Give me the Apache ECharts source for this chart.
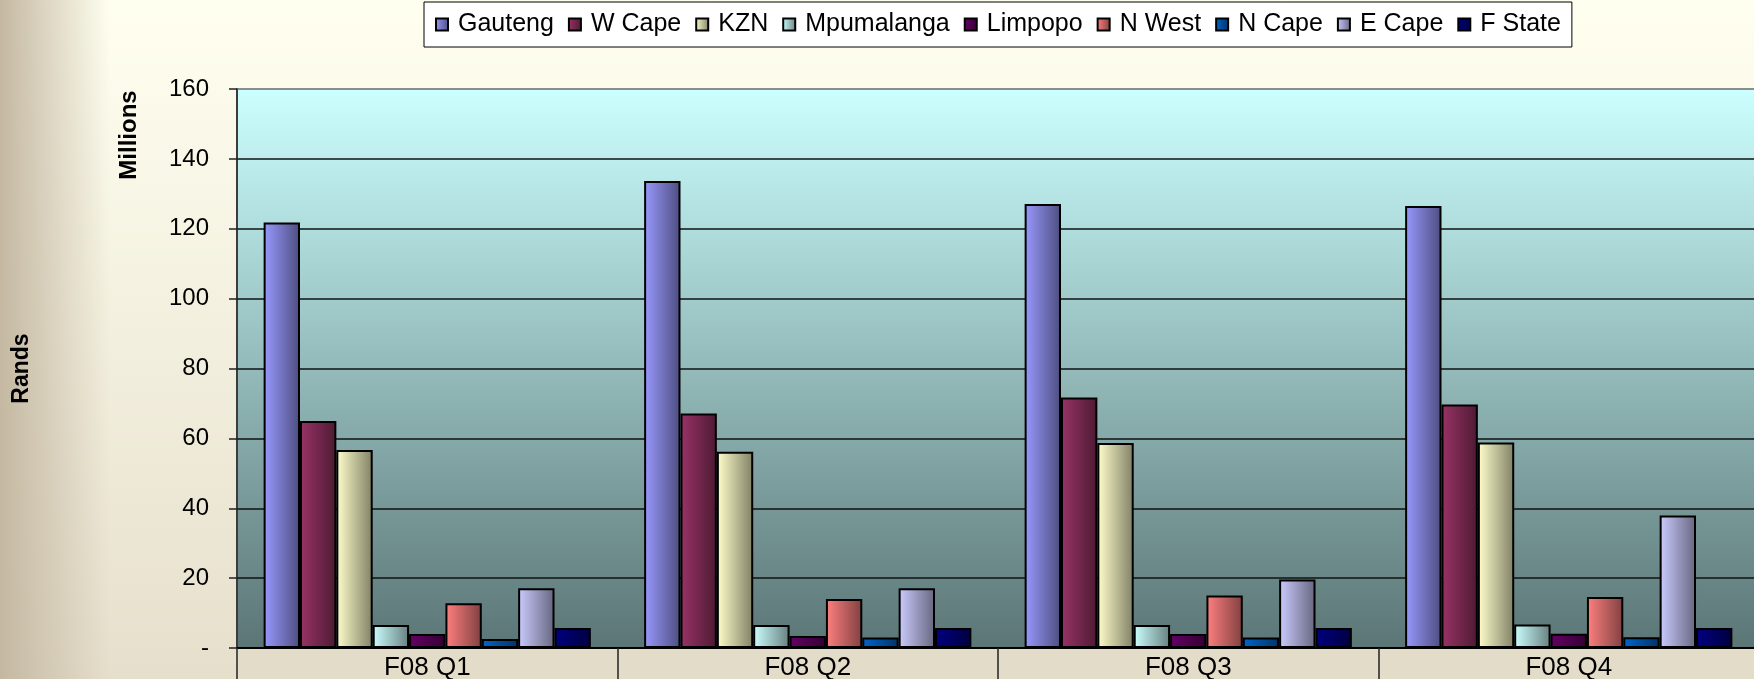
<!DOCTYPE html>
<html>
<head>
<meta charset="utf-8">
<script src="https://cdn.jsdelivr.net/npm/echarts@6/dist/echarts.min.js"></script>
<style>
  html, body { margin: 0; padding: 0; background: #fffff0; }
  #chart { width: 1754px; height: 679px; }
</style>
</head>
<body>
<div id="chart"></div>
<script>
// quarters
const categories = ["F08 Q1", "F08 Q2", "F08 Q3", "F08 Q4"];

// Rands, millions, per province
const gauteng = [121.8, 133.7, 127.1, 126.5];
const wCape = [65.0, 67.1, 71.7, 69.7];
const kzn = [56.7, 56.2, 58.7, 58.8];
const mpumalanga = [6.6, 6.6, 6.6, 6.7];
const limpopo = [4.0, 3.4, 4.0, 4.1];
const nWest = [12.8, 14.0, 15.0, 14.6];
const nCape = [2.6, 3.0, 3.0, 3.1];
const eCape = [17.1, 17.1, 19.6, 37.9];
const fState = [5.7, 5.7, 5.7, 5.7];

const yMin = 0;
const yMax = 160;
const yStep = 20;

const seriesList = [
  { name: "Gauteng", color: "#9999ff", values: gauteng },
  { name: "W Cape", color: "#993366", values: wCape },
  { name: "KZN", color: "#ffffcc", values: kzn },
  { name: "Mpumalanga", color: "#ccffff", values: mpumalanga },
  { name: "Limpopo", color: "#660066", values: limpopo },
  { name: "N West", color: "#ff8080", values: nWest },
  { name: "N Cape", color: "#0066cc", values: nCape },
  { name: "E Cape", color: "#ccccff", values: eCape },
  { name: "F State", color: "#000080", values: fState },
];

const W = 1754;
const H = 679;
const GRID_LEFT = 237;
const GRID_TOP = 89;
const GRID_BOTTOM = 31;
const GRID_WIDTH = 1522; // runs a little past the right edge, like the original
const FONT = "'Liberation Sans', Arial, sans-serif";

function darken(hex, f) {
  const n = parseInt(hex.slice(1), 16);
  const r = Math.round(((n >> 16) & 255) * f);
  const g = Math.round(((n >> 8) & 255) * f);
  const b = Math.round((n & 255) * f);
  return `rgb(${r}, ${g}, ${b})`;
}

function barFill(hex) {
  return new echarts.graphic.LinearGradient(0, 0, 1, 0, [
    { offset: 0, color: hex },
    { offset: 1, color: darken(hex, 0.5) },
  ]);
}

const chart = echarts.init(document.getElementById("chart"), null, { renderer: "canvas" });

chart.setOption({
  animation: false,
  backgroundColor: new echarts.graphic.LinearGradient(0, 0, 0, 1, [
    { offset: 0, color: "#fffff0" },
    { offset: 1, color: "#e6dfcc" },
  ]),
  textStyle: { fontFamily: FONT },
  graphic: [
    {
      type: "rect",
      z: -10,
      shape: { x: 0, y: 0, width: 110, height: H },
      style: {
        fill: new echarts.graphic.LinearGradient(0, 0, 1, 0, [
          { offset: 0, color: "rgba(196, 184, 162, 1)" },
          { offset: 1, color: "rgba(196, 184, 162, 0)" },
        ]),
      },
      silent: true,
    },
    {
      type: "rect",
      z: -10,
      shape: { x: GRID_LEFT, y: H - GRID_BOTTOM, width: W - GRID_LEFT, height: GRID_BOTTOM },
      style: { fill: "#e3dcc8" },
      silent: true,
    },
    {
      type: "text",
      x: 129,
      y: 135,
      rotation: Math.PI / 2,
      style: {
        text: "Millions",
        fontFamily: FONT,
        fontSize: 24,
        fontWeight: "bold",
        fill: "#000",
        align: "center",
        verticalAlign: "middle",
      },
      silent: true,
    },
  ],
  legend: {
    left: 424,
    top: 2,
    padding: [10, 11],
    itemGap: 14,
    itemWidth: 12,
    itemHeight: 12,
    backgroundColor: "#ffffff",
    borderColor: "#000",
    borderWidth: 1,
    borderRadius: 0,
    icon: "rect",
    textStyle: { fontFamily: FONT, fontSize: 25, color: "#000", padding: [0, 0, 0, 5] },
    data: seriesList.map((s) => s.name),
  },
  grid: {
    left: GRID_LEFT,
    top: GRID_TOP,
    bottom: GRID_BOTTOM,
    width: GRID_WIDTH,
    outerBoundsMode: "none",
    show: true,
    backgroundColor: new echarts.graphic.LinearGradient(0, 0, 0, 1, [
      { offset: 0, color: "#ccffff" },
      { offset: 1, color: "#5b7575" },
    ]),
    borderColor: "#8c8c8c",
    borderWidth: 2,
  },
  xAxis: {
    type: "category",
    data: categories,
    axisLine: { lineStyle: { color: "#000", width: 2 } },
    axisTick: { show: true, length: 31, lineStyle: { color: "#222", width: 1.5 } },
    axisLabel: { fontFamily: FONT, fontSize: 26, color: "#000", margin: 7 },
  },
  yAxis: {
    type: "value",
    min: yMin,
    max: yMax,
    interval: yStep,
    name: "Rands",
    nameLocation: "middle",
    nameRotate: 90,
    nameGap: 204,
    nameTextStyle: { fontFamily: FONT, fontSize: 23, fontWeight: "bold", color: "#000" },
    axisLine: { show: true, lineStyle: { color: "#222", width: 1.5 } },
    axisTick: { show: true, length: 8, lineStyle: { color: "#222", width: 1.5 } },
    axisLabel: {
      fontFamily: FONT,
      fontSize: 24,
      color: "#000",
      margin: 28,
      formatter: (v) => (v === 0 ? "-" : String(v)),
    },
    splitLine: {
      show: true,
      showMinLine: false,
      showMaxLine: false,
      lineStyle: { color: "#111", width: 1.5 },
    },
  },
  series: seriesList.map((s) => ({
    name: s.name,
    type: "bar",
    data: s.values,
    barGap: "0%",
    barCategoryGap: "14%",
    itemStyle: {
      color: barFill(s.color),
      borderColor: "#000",
      borderWidth: 2,
    },
    emphasis: { disabled: true },
  })),
});
</script>
</body>
</html>
